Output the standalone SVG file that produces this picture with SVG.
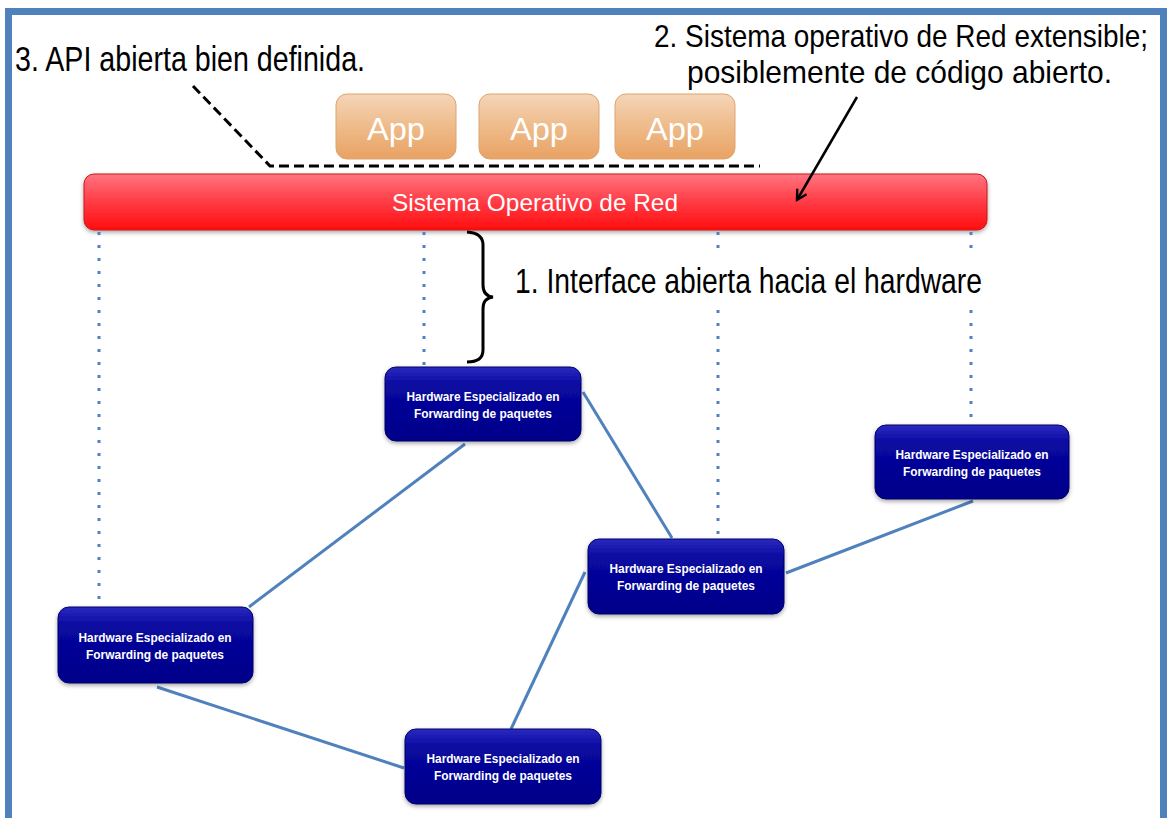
<svg xmlns="http://www.w3.org/2000/svg" width="1168" height="818" viewBox="0 0 1168 818">
<style>
.big{font-family:"Liberation Sans","Noto Sans",sans-serif;font-size:35px;fill:#000}
.top{font-size:32px}
.hw{font-family:"Liberation Sans","Noto Sans",sans-serif;font-size:12.5px;font-weight:bold;fill:#fff}
.app{font-family:"Liberation Sans","Noto Sans",sans-serif;font-size:31px;fill:#fff}
.os{font-family:"Liberation Sans","Noto Sans",sans-serif;font-size:24px;fill:#fff}
.link{stroke:#4F81BD;stroke-width:3;fill:none}
.dot{stroke:#4F81BD;stroke-width:3;stroke-dasharray:3 10;fill:none}
.node{fill:url(#gNode);stroke:#00006A;stroke-width:1;filter:url(#sh)}
</style>
<defs>
<linearGradient id="gRed" x1="0" y1="0" x2="0" y2="1">
<stop offset="0" stop-color="#FF7580"/><stop offset="0.5" stop-color="#FF3B45"/><stop offset="1" stop-color="#FF0D0D"/>
</linearGradient>
<linearGradient id="gApp" x1="0" y1="0" x2="0" y2="1">
<stop offset="0" stop-color="#F5D5B8"/><stop offset="0.5" stop-color="#EEBB8A"/><stop offset="1" stop-color="#E9A263"/>
</linearGradient>
<linearGradient id="gNode" x1="0" y1="0" x2="0" y2="1">
<stop offset="0" stop-color="#2A2ABF"/><stop offset="0.25" stop-color="#0808A0"/><stop offset="1" stop-color="#000088"/>
</linearGradient>
<filter id="sh" x="-10%" y="-10%" width="120%" height="130%">
<feDropShadow dx="0" dy="2" stdDeviation="2" flood-color="#000" flood-opacity="0.35"/>
</filter>
<marker id="arr" viewBox="0 0 12 12" refX="10" refY="6" markerWidth="13" markerHeight="13" markerUnits="userSpaceOnUse" orient="auto">
<path d="M1,1 L10,6 L1,11" fill="none" stroke="#000" stroke-width="2.2"/>
</marker>
</defs>
<rect x="8.5" y="11.5" width="1155" height="900" fill="#fff" stroke="#4F81BD" stroke-width="7"/>

<text class="big" x="15" y="71" textLength="350" lengthAdjust="spacingAndGlyphs">3. API abierta bien definida.</text>
<text class="big top" x="654" y="47" textLength="494" lengthAdjust="spacingAndGlyphs">2. Sistema operativo de Red extensible;</text>
<text class="big top" x="687" y="83" textLength="425" lengthAdjust="spacingAndGlyphs">posiblemente de código abierto.</text>
<text class="big" x="515" y="293" textLength="467" lengthAdjust="spacingAndGlyphs">1. Interface abierta hacia el hardware</text>

<g id="app1"><rect x="336" y="94" width="120" height="65" rx="11" fill="url(#gApp)" stroke="#DDA46E" stroke-width="1"/><text class="app" x="396" y="140" text-anchor="middle" textLength="58" lengthAdjust="spacingAndGlyphs">App</text></g>
<g id="app2"><rect x="479" y="94" width="120" height="65" rx="11" fill="url(#gApp)" stroke="#DDA46E" stroke-width="1"/><text class="app" x="539" y="140" text-anchor="middle" textLength="58" lengthAdjust="spacingAndGlyphs">App</text></g>
<g id="app3"><rect x="615" y="94" width="120" height="65" rx="11" fill="url(#gApp)" stroke="#DDA46E" stroke-width="1"/><text class="app" x="675" y="140" text-anchor="middle" textLength="58" lengthAdjust="spacingAndGlyphs">App</text></g>

<g id="os"><rect x="84" y="174" width="903" height="56" rx="10" fill="url(#gRed)" stroke="#C81818" stroke-width="1" filter="url(#sh)"/><text class="os" x="535" y="211" text-anchor="middle" textLength="286" lengthAdjust="spacingAndGlyphs">Sistema Operativo de Red</text></g>

<g id="connectors">
<path class="dot" d="M99,232 V605"/>
<path class="dot" d="M424,232 V366"/>
<path class="dot" d="M718,232 V258 M718,310 V538"/>
<path class="dot" d="M971,232 V258 M971,310 V424"/>
<path class="link" d="M465,444 L249,607"/>
<path class="link" d="M583,392 L672,538"/>
<path class="link" d="M786,573 L973,501"/>
<path class="link" d="M157,687 L404,768"/>
<path class="link" d="M585,572 L511,729"/>
<path d="M193,86 L270,166 H760" fill="none" stroke="#000" stroke-width="3" stroke-dasharray="10 5"/>
<path d="M857,97 L797,200" fill="none" stroke="#000" stroke-width="2.5" marker-end="url(#arr)"/>
<path d="M467,232 Q483,233 483,245 V285 Q483,296 493,297 Q483,298 483,309 V350 Q483,362 467,362" fill="none" stroke="#000" stroke-width="3"/>
</g>

<g id="hw1"><rect class="node" x="385" y="367" width="196" height="74" rx="11"/><text class="hw" x="483" y="401" text-anchor="middle" textLength="153" lengthAdjust="spacingAndGlyphs">Hardware Especializado en</text><text class="hw" x="483" y="418" text-anchor="middle" textLength="138" lengthAdjust="spacingAndGlyphs">Forwarding de paquetes</text></g>
<g id="hw2"><rect class="node" x="875" y="425" width="194" height="74" rx="11"/><text class="hw" x="972" y="459" text-anchor="middle" textLength="153" lengthAdjust="spacingAndGlyphs">Hardware Especializado en</text><text class="hw" x="972" y="476" text-anchor="middle" textLength="138" lengthAdjust="spacingAndGlyphs">Forwarding de paquetes</text></g>
<g id="hw3"><rect class="node" x="588" y="539" width="196" height="75" rx="11"/><text class="hw" x="686" y="573" text-anchor="middle" textLength="153" lengthAdjust="spacingAndGlyphs">Hardware Especializado en</text><text class="hw" x="686" y="590" text-anchor="middle" textLength="138" lengthAdjust="spacingAndGlyphs">Forwarding de paquetes</text></g>
<g id="hw4"><rect class="node" x="58" y="607" width="195" height="76" rx="11"/><text class="hw" x="155" y="642" text-anchor="middle" textLength="153" lengthAdjust="spacingAndGlyphs">Hardware Especializado en</text><text class="hw" x="155" y="659" text-anchor="middle" textLength="138" lengthAdjust="spacingAndGlyphs">Forwarding de paquetes</text></g>
<g id="hw5"><rect class="node" x="405" y="729" width="196" height="75" rx="11"/><text class="hw" x="503" y="763" text-anchor="middle" textLength="153" lengthAdjust="spacingAndGlyphs">Hardware Especializado en</text><text class="hw" x="503" y="780" text-anchor="middle" textLength="138" lengthAdjust="spacingAndGlyphs">Forwarding de paquetes</text></g>
</svg>
